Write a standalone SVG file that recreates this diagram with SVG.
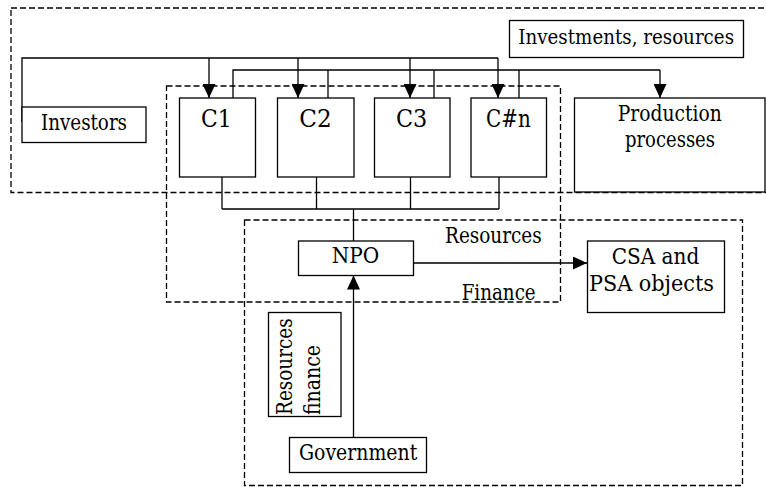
<svg xmlns="http://www.w3.org/2000/svg" width="766" height="487" viewBox="0 0 766 487">
<style>
.bg{fill:#fff}
.dash{fill:none;stroke:#000;stroke-width:1.3;stroke-dasharray:6 3}
.box{fill:#fff;stroke:#000;stroke-width:1.3}
.ln{fill:none;stroke:#000;stroke-width:1.3}
.t{font-family:"DejaVu Serif","Liberation Serif",serif;font-size:21.5px;fill:#000}
.c{font-size:23.3px}
.s{font-size:19.5px}
</style>
<defs>
<marker id="ah" viewBox="0 0 14 13" refX="14" refY="6.5" markerWidth="14" markerHeight="13" markerUnits="userSpaceOnUse" orient="auto">
<path d="M0,0 L14,6.5 L0,13 z" fill="#000"/>
</marker>
</defs>
<rect class="bg" x="0" y="0" width="766" height="487"/>
<g id="groups">
<rect class="dash" x="11" y="8" width="760" height="184.5"/>
<rect class="dash" x="166.5" y="86" width="394" height="216"/>
<rect class="dash" x="244.5" y="220" width="498" height="265.5"/>
</g>
<g id="connectors">
<polyline class="ln" points="22,122 22,58 498,58"/>
<line class="ln" x1="209" y1="58" x2="209" y2="98" marker-end="url(#ah)"/>
<line class="ln" x1="298" y1="58" x2="298" y2="98" marker-end="url(#ah)"/>
<line class="ln" x1="410" y1="58" x2="410" y2="98" marker-end="url(#ah)"/>
<line class="ln" x1="498" y1="58" x2="498" y2="98" marker-end="url(#ah)"/>
<polyline class="ln" points="233,98 233,70 660,70"/>
<line class="ln" x1="328" y1="70" x2="328" y2="98"/>
<line class="ln" x1="434" y1="70" x2="434" y2="98"/>
<line class="ln" x1="519" y1="70" x2="519" y2="98"/>
<line class="ln" x1="660" y1="70" x2="660" y2="98" marker-end="url(#ah)"/>
<line class="ln" x1="222" y1="177" x2="222" y2="209"/>
<line class="ln" x1="316.5" y1="177" x2="316.5" y2="209"/>
<line class="ln" x1="410.5" y1="177" x2="410.5" y2="209"/>
<line class="ln" x1="499" y1="177" x2="499" y2="209"/>
<line class="ln" x1="222" y1="209" x2="499" y2="209"/>
<line class="ln" x1="353.5" y1="209" x2="353.5" y2="241"/>
<line class="ln" x1="413" y1="263" x2="587" y2="263" marker-end="url(#ah)"/>
<line class="ln" x1="353.5" y1="437" x2="353.5" y2="275.5" marker-end="url(#ah)"/>
</g>
<g id="investors">
<rect class="box" x="22" y="107" width="124" height="35.5"/>
<text class="t" x="41" y="129.5" textLength="86" lengthAdjust="spacingAndGlyphs">Investors</text>
</g>
<g id="investments">
<rect class="box" x="509.5" y="20.5" width="234" height="37"/>
<text class="t s" x="518.3" y="43.5" textLength="215.7" lengthAdjust="spacingAndGlyphs">Investments, resources</text>
</g>
<g id="c1">
<rect class="box" x="179.5" y="98" width="76" height="79"/>
<text class="t c" x="201" y="127" textLength="30.7" lengthAdjust="spacingAndGlyphs">C1</text>
</g>
<g id="c2">
<rect class="box" x="277.5" y="98" width="76.5" height="79"/>
<text class="t c" x="299.3" y="127" textLength="32.4" lengthAdjust="spacingAndGlyphs">C2</text>
</g>
<g id="c3">
<rect class="box" x="374.5" y="98" width="75.5" height="79"/>
<text class="t c" x="396" y="127" textLength="31.3" lengthAdjust="spacingAndGlyphs">C3</text>
</g>
<g id="cn">
<rect class="box" x="471" y="98" width="75.5" height="79"/>
<text class="t c" x="486" y="127" textLength="44.7" lengthAdjust="spacingAndGlyphs">C#n</text>
</g>
<g id="production">
<rect class="box" x="574.5" y="98" width="190.5" height="94"/>
<text class="t" x="617.7" y="120.5" textLength="104" lengthAdjust="spacingAndGlyphs">Production</text>
<text class="t" x="625" y="147" textLength="90" lengthAdjust="spacingAndGlyphs">processes</text>
</g>
<g id="npo">
<rect class="box" x="298.5" y="241" width="115" height="34.5"/>
<text class="t" x="331.7" y="263" textLength="47.6" lengthAdjust="spacingAndGlyphs">NPO</text>
</g>
<g id="labels">
<text class="t" x="445" y="243" textLength="96.7" lengthAdjust="spacingAndGlyphs">Resources</text>
<text class="t" x="461.7" y="299.5" textLength="74" lengthAdjust="spacingAndGlyphs">Finance</text>
</g>
<g id="csa">
<rect class="box" x="587.5" y="241" width="137" height="71.5"/>
<text class="t" x="611.7" y="263.5" textLength="87.6" lengthAdjust="spacingAndGlyphs">CSA and</text>
<text class="t" x="589" y="290.5" textLength="125" lengthAdjust="spacingAndGlyphs">PSA objects</text>
</g>
<g id="resfin">
<rect class="box" x="268.5" y="312.5" width="72.5" height="104"/>
<text class="t" transform="translate(291.5,415) rotate(-90)" textLength="96.7" lengthAdjust="spacingAndGlyphs">Resources</text>
<text class="t" transform="translate(319.5,415) rotate(-90)" textLength="70" lengthAdjust="spacingAndGlyphs">finance</text>
</g>
<g id="government">
<rect class="box" x="289.5" y="437.5" width="137" height="35"/>
<text class="t" x="299" y="459.5" textLength="118.3" lengthAdjust="spacingAndGlyphs">Government</text>
</g>
</svg>
